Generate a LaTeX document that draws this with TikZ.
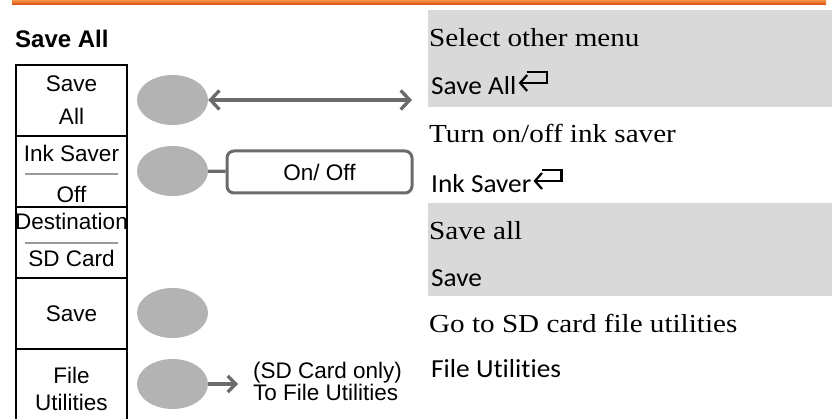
\documentclass[tikz,border=0pt]{standalone}
\usepackage{fontspec}
\newfontfamily\arial{Liberation Sans}
\newfontfamily\calib[Ligatures=NoCommon,FakeStretch=1.05]{Carlito}
\newfontfamily\pala[FakeStretch=1.12]{Liberation Serif}
\usetikzlibrary{shapes.geometric,arrows.meta}
\definecolor{bandgrey}{HTML}{D9D9D9}
\definecolor{btngrey}{HTML}{B3B3B3}
\definecolor{linegrey}{HTML}{6B6B6B}
\definecolor{sepgrey}{HTML}{9A9A9A}
\definecolor{orA}{RGB}{246,150,70}
\definecolor{orB}{RGB}{222,78,20}
\tikzset{
  cell/.style={draw=black,line width=1.3pt,minimum width=111pt,minimum height=71pt,inner sep=0pt},
  mtext/.style={font=\arial\fontsize{22.5}{26}\selectfont,anchor=base,inner sep=0pt},
  sepline/.style={draw=sepgrey,line width=1.8pt},
  btn/.style={ellipse,fill=btngrey,minimum width=71pt,minimum height=50pt,inner sep=0pt},
  conn/.style={draw=linegrey,line width=3.3pt},
  barb/.tip={Straight Barb[length=9pt,width=19pt]},
  sbarb/.tip={Straight Barb[length=8pt,width=16pt]},
  onoffbox/.style={draw=linegrey,line width=3pt,rounded corners=7pt,minimum width=185pt,minimum height=42pt,inner sep=0pt,font=\arial\fontsize{22.5}{26}\selectfont},
  lbl/.style={font=\arial\fontsize{22.5}{26}\selectfont,anchor=base west,inner sep=0pt},
  serif/.style={font=\pala\fontsize{26}{30}\selectfont,anchor=base west,inner sep=0pt},
  sans/.style={font=\calib\fontsize{26}{30}\selectfont,anchor=base west,inner sep=0pt},
  retsym/.style={draw=black,line width=2.2pt,-{Straight Barb[length=7pt,width=16pt]}},
}
\newcommand{\retmark}[1]{\draw[retsym] ([xshift=10pt,yshift=23pt]#1.base east) -- ++(20,0) -- ++(0,11) -- ++(-28,0);}
\begin{document}
\begin{tikzpicture}[x=1pt,y=-1pt]
\useasboundingbox (0,0) rectangle (832,419);
% top orange bar
\shade[top color=orA,bottom color=orB] (12,0) rectangle (826,4.5);
% right grey bands
\fill[bandgrey] (428,10) rectangle (832,107);
\fill[bandgrey] (428,203) rectangle (832,296);
% title
\node[font=\arial\bfseries\fontsize{24}{28}\selectfont,anchor=base west,inner sep=0pt] (title) at (15,48) {Save All};
% menu column
\node[cell] (m1) at (71.5,100.5) {};
\node[cell] (m2) at (71.5,171.5) {};
\node[cell] (m3) at (71.5,242.5) {};
\node[cell] (m4) at (71.5,313.5) {};
\node[cell] (m5) at (71.5,384.5) {};
\node[mtext] (t1a) at (71.5,92) {Save};
\node[mtext] (t1b) at (71.5,125) {All};
\node[mtext] (t2a) at (71.5,162) {Ink Saver};
\node[mtext] (t2b) at (71.5,203) {Off};
\node[mtext] (t3a) at (71.5,230) {Destination};
\node[mtext] (t3b) at (71.5,267) {SD Card};
\node[mtext] (t4a) at (71.5,322) {Save};
\node[mtext] (t5a) at (71.5,383) {File};
\node[mtext] (t5b) at (71.5,410) {Utilities};
\draw[sepline] (25,174) -- (118,174);
\draw[sepline] (25,243) -- (118,243);
% buttons
\node[btn] (b1) at (172.5,100) {};
\node[btn] (b2) at (172.5,171) {};
\node[btn] (b4) at (172.5,313) {};
\node[btn] (b5) at (172.5,384) {};
% connectors
\coordinate (aend) at (412,100);
\draw[conn,{barb}-{barb}] (b1) -- (aend);
\node[onoffbox] (onoff) at (319.5,172) {On/ Off};
\draw[conn] (b2) -- (onoff);
\coordinate (fuend) at (238,384);
\draw[conn,-{sbarb}] (b5) -- (fuend);
\node[lbl] (sd1) at (253,378) {(SD Card only)};
\node[lbl] (sd2) at (253,400) {To File Utilities};
% right descriptions
\node[serif] (d1) at (429,47) {Select other menu};
\node[sans] (k1) at (431,95) {Save All};
\retmark{k1}
\node[serif] (d2) at (429,143) {Turn on/off ink saver};
\node[sans] (k2) at (431,193) {Ink Saver};
\retmark{k2}
\node[serif] (d3) at (429,240) {Save all};
\node[sans] (k3) at (431,287) {Save};
\node[serif] (d4) at (429,332) {Go to SD card file utilities};
\node[sans] (k4) at (431,377) {File Utilities};
\end{tikzpicture}
\end{document}
